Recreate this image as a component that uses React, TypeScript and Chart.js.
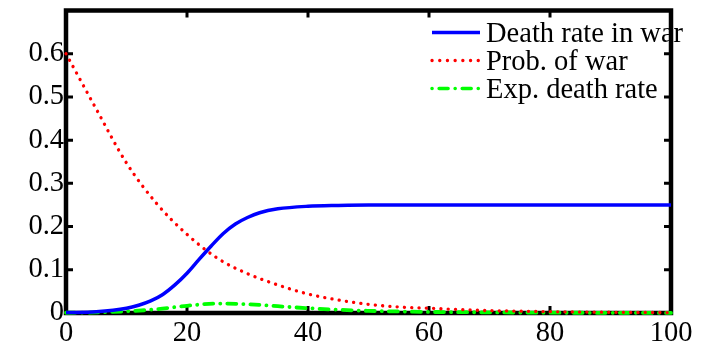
import React, { useEffect, useRef } from 'react';
import { Chart, registerables } from 'chart.js';
Chart.register(...registerables);

const FONT = '"Liberation Serif", "Times New Roman", serif';
const FSIZE = 28.5;

// Death rate in war (blue, solid)
const xDeath = [0, 5, 10, 12, 14, 16, 18, 20, 22, 24, 26, 28, 30, 32, 35, 40, 45, 50, 60, 70, 80, 90, 100];
const deathRate = [0.001, 0.003, 0.011, 0.018, 0.028, 0.043, 0.065, 0.092, 0.124, 0.155, 0.184, 0.206, 0.221, 0.232, 0.241, 0.247, 0.249, 0.25, 0.25, 0.25, 0.25, 0.25, 0.25];

// Prob. of war (red, dotted)
const xProb = [0, 5, 10, 15, 20, 25, 30, 35, 40, 45, 50, 55, 60, 65, 70, 75, 80, 85, 90, 95, 100];
const probWar = [0.6, 0.472, 0.347, 0.253, 0.182, 0.127, 0.091, 0.065, 0.044, 0.03, 0.02, 0.014, 0.011, 0.008, 0.0055, 0.0042, 0.003, 0.0022, 0.0017, 0.0013, 0.001];

// Exp. death rate (green, dash-dot)
const xExp = [0, 5, 10, 15, 20, 25, 30, 35, 40, 45, 50, 55, 60, 70, 80, 90, 100];
const expDeath = [0.0006, 0.0014, 0.0039, 0.0087, 0.0167, 0.0218, 0.0203, 0.0157, 0.0111, 0.0075, 0.005, 0.0035, 0.0025, 0.0015, 0.00075, 0.0004, 0.00025];

const xTicks = [0, 20, 40, 60, 80, 100];
const yTicks = [0, 0.1, 0.2, 0.3, 0.4, 0.5, 0.6];

const legendItems = [
  { label: 'Death rate in war', color: '#0000ff', dash: [] as number[], width: 3.5, offset: 0 },
  { label: 'Prob. of war', color: '#ff0000', dash: [0.1, 7.6], width: 3.3, offset: 0 },
  { label: 'Exp. death rate', color: '#00ff00', dash: [9, 7, 0.1, 7], width: 3.5, offset: 16 },
];

const framePlugin = {
  id: 'frame',
  beforeDatasetsDraw(chart: any) {
    const { ctx, chartArea: a, scales } = chart;
    ctx.save();
    ctx.strokeStyle = '#000';
    ctx.lineWidth = 4.5;
    ctx.setLineDash([]);
    ctx.strokeRect(a.left, a.top, a.right - a.left, a.bottom - a.top);
    ctx.lineWidth = 3;
    const tl = 7;
    ctx.beginPath();
    xTicks.forEach((v) => {
      const px = scales.x.getPixelForValue(v);
      ctx.moveTo(px, a.bottom);
      ctx.lineTo(px, a.bottom - tl);
      ctx.moveTo(px, a.top);
      ctx.lineTo(px, a.top + tl);
    });
    yTicks.forEach((v) => {
      const py = scales.y.getPixelForValue(v);
      ctx.moveTo(a.left, py);
      ctx.lineTo(a.left + tl, py);
      ctx.moveTo(a.right, py);
      ctx.lineTo(a.right - tl, py);
    });
    ctx.stroke();
    ctx.restore();
  },
  afterDraw(chart: any) {
    const { ctx, chartArea: a } = chart;
    ctx.save();
    const x0 = a.right - 239;
    legendItems.forEach((it, i) => {
      const ly = a.top + 22 + i * 28;
      ctx.strokeStyle = it.color;
      ctx.lineWidth = it.width;
      ctx.lineCap = it.dash.length ? 'round' : 'butt';
      ctx.setLineDash(it.dash);
      ctx.lineDashOffset = it.offset;
      ctx.beginPath();
      ctx.moveTo(x0, ly);
      ctx.lineTo(x0 + 48, ly);
      ctx.stroke();
      ctx.setLineDash([]);
      ctx.fillStyle = '#000';
      ctx.font = `${FSIZE}px ${FONT}`;
      ctx.textBaseline = 'alphabetic';
      ctx.textAlign = 'left';
      ctx.fillText(it.label, x0 + 54, ly + 9.5);
    });
    ctx.restore();
  },
};

export default function App() {
  const ref = useRef<HTMLCanvasElement>(null);
  useEffect(() => {
    document.body.style.margin = '0';
    const mk = (xs: number[], ys: number[]) => xs.map((x, i) => ({ x, y: ys[i] }));
    const chart = new Chart(ref.current!, {
      type: 'line',
      data: {
        datasets: [
          {
            label: 'Death rate in war',
            data: mk(xDeath, deathRate),
            borderColor: '#0000ff',
            borderWidth: 3.5,
            pointRadius: 0,
            cubicInterpolationMode: 'monotone',
            fill: false,
            clip: false,
          } as any,
          {
            label: 'Prob. of war',
            data: mk(xProb, probWar),
            borderColor: '#ff0000',
            borderWidth: 3.3,
            borderDash: [0.1, 7.2],
            borderCapStyle: 'round',
            pointRadius: 0,
            cubicInterpolationMode: 'monotone',
            fill: false,
            clip: false,
          } as any,
          {
            label: 'Exp. death rate',
            data: mk(xExp, expDeath),
            borderColor: '#00ff00',
            borderWidth: 3.8,
            borderDash: [9, 7, 0.1, 7],
            borderCapStyle: 'round',
            pointRadius: 0,
            cubicInterpolationMode: 'monotone',
            fill: false,
            clip: false,
          } as any,
        ],
      },
      options: {
        responsive: false,
        animation: false,
        layout: { padding: { left: 0, right: 50, top: 10.5, bottom: 0 } },
        plugins: { legend: { display: false }, tooltip: { enabled: false } },
        scales: {
          x: {
            type: 'linear',
            min: 0,
            max: 100,
            grid: { display: false, drawTicks: false },
            border: { display: false },
            ticks: {
              stepSize: 20,
              color: '#000',
              font: { family: FONT, size: FSIZE },
              padding: 3,
              maxRotation: 0,
              autoSkip: false,
            },
            afterFit: (s: any) => {
              s.height = 34;
              s.paddingLeft = 0;
              s.paddingRight = 0;
            },
          },
          y: {
            type: 'linear',
            min: 0,
            max: 0.7,
            grid: { display: false, drawTicks: false },
            border: { display: false },
            ticks: {
              stepSize: 0.1,
              color: '#000',
              font: { family: FONT, size: FSIZE },
              padding: 2,
              autoSkip: false,
              callback: (v: any) => {
                const n = Number(v);
                if (n > 0.65) return null;
                return n === 0 ? '0' : n.toFixed(1);
              },
            },
            afterFit: (s: any) => {
              s.width = 66;
              s.paddingTop = 0;
              s.paddingBottom = 0;
            },
          },
        },
      },
      plugins: [framePlugin],
    });
    return () => chart.destroy();
  }, []);
  return <canvas ref={ref} width={721} height={347} style={{ display: 'block' }} />;
}
